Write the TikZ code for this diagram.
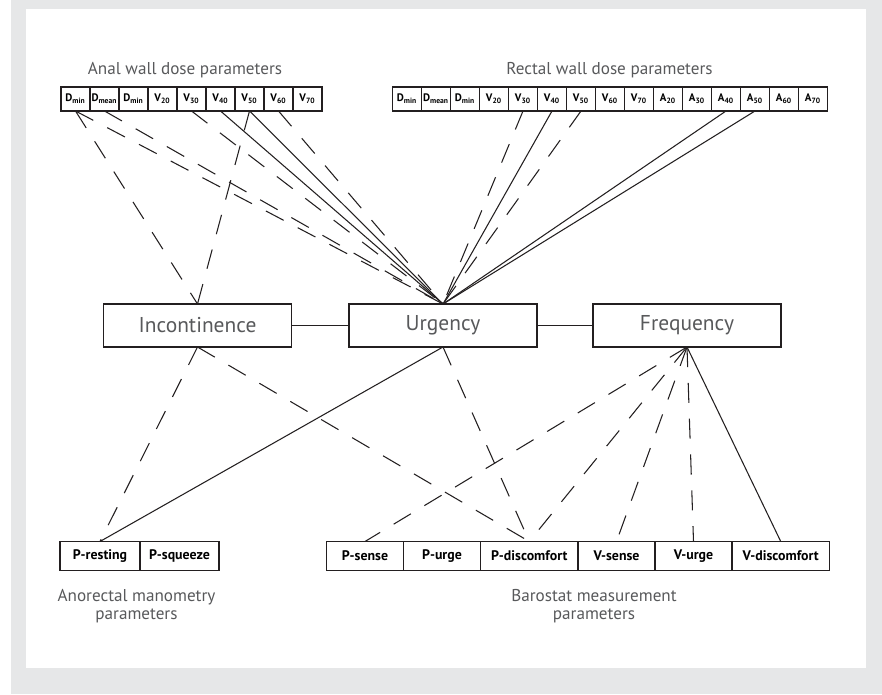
\documentclass[tikz,border=0pt]{standalone}
\usepackage{fontspec}
\setmainfont{PT Sans}
\definecolor{panelgray}{RGB}{230, 231, 232}
\definecolor{textgray}{RGB}{88, 89, 91}
\definecolor{linegray}{RGB}{35, 31, 32}

\begin{document}
\begin{tikzpicture}[
        cell/.style={draw=linegray, line width=0.7pt, inner sep=0pt, outer sep=0pt,
                     minimum width=0.58cm, minimum height=0.48cm, font=\fontsize{6.2}{7}\selectfont\bfseries},
        pcell/.style={cell, minimum height=0.58cm, font=\fontsize{7.9}{9}\selectfont\bfseries},
        box/.style={draw=linegray, line width=0.75pt, inner sep=0pt, outer sep=0pt,
                    minimum width=3.76cm, minimum height=0.86cm, text=textgray, font=\fontsize{12.2}{14}\selectfont},
        caption/.style={inner sep=0pt, text=textgray, font=\fontsize{9.75}{10.4}\selectfont, align=center},
        link/.style={draw=linegray, line width=0.6pt},
        dashlink/.style={link, dash pattern=on 11.4pt off 9pt}
    ]
            \useasboundingbox (0,0) rectangle (17.64,13.88);
            \fill[white]     (0.00,0.00) rectangle (17.64,13.88);
            \fill[panelgray] (0.22,0.00) rectangle (17.64,13.88);
            \fill[white]     (0.52,0.52) rectangle (17.32,13.70);

            \node[caption, anchor=base] (analtitle) at ( 3.70,12.38) {Anal wall dose parameters};
            \node[caption, anchor=base] (rectitle)  at (12.19,12.38) {Rectal wall dose parameters};

            \node[cell] (aDmin)  at ( 1.51,11.90) {D\textsubscript{min}};
            \node[cell] (aDmean) at ( 2.09,11.90) {D\textsubscript{mean}};
            \node[cell] (aDminB) at ( 2.67,11.90) {D\textsubscript{min}};
            \node[cell] (aV20)   at ( 3.25,11.90) {V\textsubscript{20}};
            \node[cell] (aV30)   at ( 3.83,11.90) {V\textsubscript{30}};
            \node[cell] (aV40)   at ( 4.41,11.90) {V\textsubscript{40}};
            \node[cell] (aV50)   at ( 4.99,11.90) {V\textsubscript{50}};
            \node[cell] (aV60)   at ( 5.57,11.90) {V\textsubscript{60}};
            \node[cell] (aV70)   at ( 6.15,11.90) {V\textsubscript{70}};

            \node[cell] (rDmin)  at ( 8.14,11.90) {D\textsubscript{min}};
            \node[cell] (rDmean) at ( 8.72,11.90) {D\textsubscript{mean}};
            \node[cell] (rDminB) at ( 9.30,11.90) {D\textsubscript{min}};
            \node[cell] (rV20)   at ( 9.88,11.90) {V\textsubscript{20}};
            \node[cell] (rV30)   at (10.46,11.90) {V\textsubscript{30}};
            \node[cell] (rV40)   at (11.04,11.90) {V\textsubscript{40}};
            \node[cell] (rV50)   at (11.62,11.90) {V\textsubscript{50}};
            \node[cell] (rV60)   at (12.20,11.90) {V\textsubscript{60}};
            \node[cell] (rV70)   at (12.78,11.90) {V\textsubscript{70}};
            \node[cell] (rA20)   at (13.36,11.90) {A\textsubscript{20}};
            \node[cell] (rA30)   at (13.94,11.90) {A\textsubscript{30}};
            \node[cell] (rA40)   at (14.52,11.90) {A\textsubscript{40}};
            \node[cell] (rA50)   at (15.10,11.90) {A\textsubscript{50}};
            \node[cell] (rA60)   at (15.68,11.90) {A\textsubscript{60}};
            \node[cell] (rA70)   at (16.26,11.90) {A\textsubscript{70}};

            \node[box] (incont)  at ( 3.95, 7.37) {Incontinence};
            \node[box] (urgency) at ( 8.86, 7.37) {Urgency};
            \node[box] (freq)    at (13.74, 7.37) {Frequency};

            \node[pcell, minimum width=1.60cm] (pResting)    at ( 2.00, 2.76) {P-resting};
            \node[pcell, minimum width=1.58cm] (pSqueeze)    at ( 3.59, 2.76) {P-squeeze};
            \node[pcell, minimum width=1.54cm] (pSense)      at ( 7.30, 2.76) {P-sense};
            \node[pcell, minimum width=1.54cm] (pUrge)       at ( 8.84, 2.76) {P-urge};
            \node[pcell, minimum width=1.95cm] (pDiscomfort) at (10.585,2.76) {P-discomfort};
            \node[pcell, minimum width=1.54cm] (vSense)      at (12.33, 2.76) {V-sense};
            \node[pcell, minimum width=1.54cm] (vUrge)       at (13.87, 2.76) {V-urge};
            \node[pcell, minimum width=1.95cm] (vDiscomfort) at (15.615,2.76) {V-discomfort};

            \node[caption, anchor=north] (manotitle) at ( 2.73, 2.10) {Anorectal manometry\\parameters};
            \node[caption, anchor=north] (barotitle) at (11.88, 2.10) {Barostat measurement\\parameters};

            \draw[dashlink] (aDmin.south)  -- (incont.north);
            \draw[dashlink] (aV50.south)   -- (incont.north);
            \draw[dashlink] (aDmin.south)  -- (urgency.north);
            \draw[dashlink] (aDmean.south) -- (urgency.north);
            \draw[dashlink] (aV30.south)   -- (urgency.north);
            \draw[link]     (aV40.south)   -- (urgency.north);
            \draw[link]     (aV50.south)   -- (urgency.north);
            \draw[dashlink] (aV60.south)   -- (urgency.north);
            \draw[dashlink] (rV30.south)   -- (urgency.north);
            \draw[link]     (rV40.south)   -- (urgency.north);
            \draw[dashlink] (rV50.south)   -- (urgency.north);
            \draw[link]     (rA40.south)   -- (urgency.north);
            \draw[link]     (rA50.south)   -- (urgency.north);

            \draw[link] (incont.east)  -- (urgency.west);
            \draw[link] (urgency.east) -- (freq.west);

            \draw[dashlink] (incont.south)  -- (pResting.north);
            \draw[dashlink] (incont.south)  -- (pDiscomfort.north);
            \draw[link]     (urgency.south) -- (pResting.north);
            \draw[dashlink] (urgency.south) -- (pDiscomfort.north);
            \draw[dashlink] (freq.south)    -- (pSense.north);
            \draw[dashlink] (freq.south)    -- (pDiscomfort.north);
            \draw[dashlink] (freq.south)    -- (vSense.north);
            \draw[dashlink] (freq.south)    -- (vUrge.north);
            \draw[link]     (freq.south)    -- (vDiscomfort.north);
        \end{tikzpicture}
\end{document}
